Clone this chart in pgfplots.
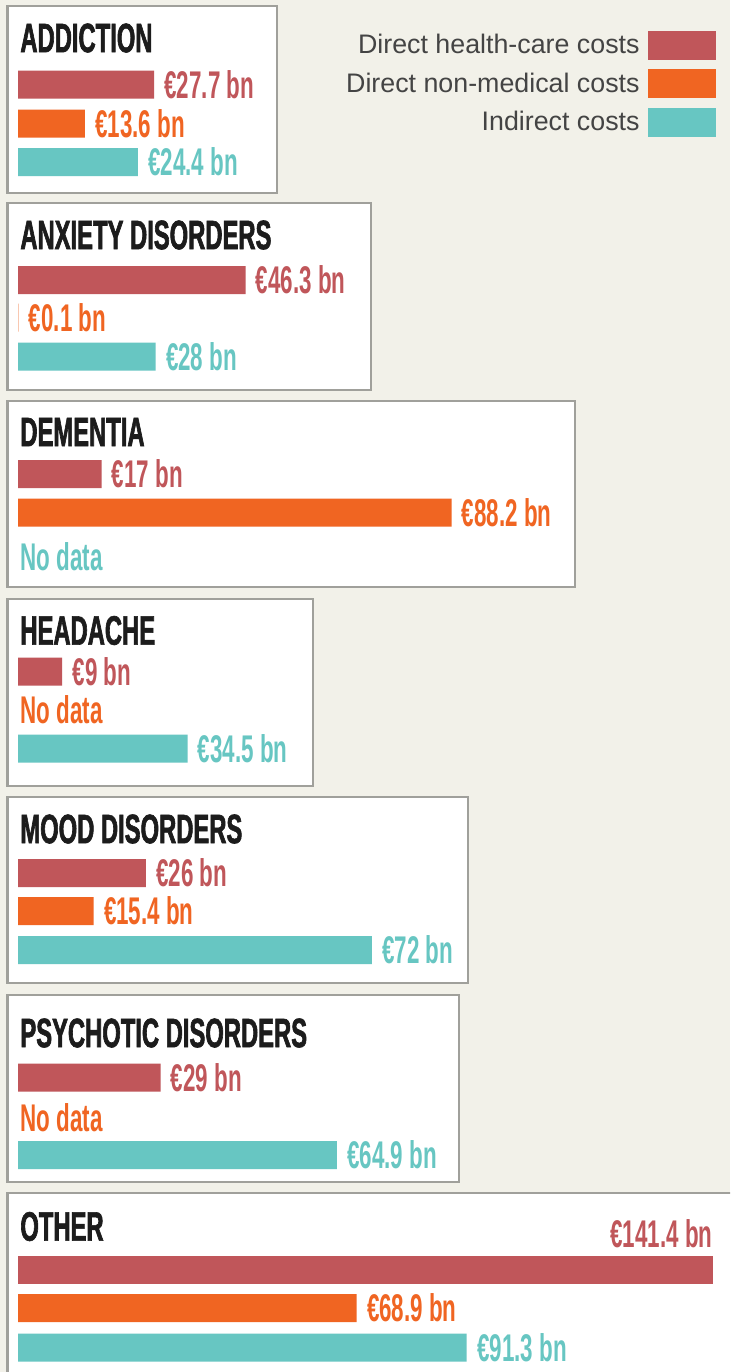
\documentclass[border=0pt]{standalone}
\usepackage{pgfplots}
\pgfplotsset{compat=1.18}
\usepackage{fontspec}
\setmainfont{Liberation Sans}
\newfontfamily\condfont[FakeStretch=0.58]{Liberation Sans}
\newfontfamily\titlecond[FakeStretch=0.58,FakeBold=1.5]{Liberation Sans}
\definecolor{hc}{RGB}{192,86,90}
\definecolor{nm}{RGB}{240,101,34}
\definecolor{ind}{RGB}{103,198,194}
\definecolor{bg}{RGB}{242,241,233}
\definecolor{legtext}{RGB}{68,68,68}
\definecolor{ttl}{RGB}{28,28,28}
\definecolor{boxline}{RGB}{160,160,155}
\newcommand\eur{\char"20AC\relax}
\newcommand\PX[1]{{(#1-18)/4.915}}
\newcommand\titlefont{\titlecond\bfseries\fontsize{20.5}{22}\selectfont}
\newcommand\labelfont{\condfont\bfseries\fontsize{19.3}{21}\selectfont}
\newcommand\legfont{\fontsize{13.4}{15}\selectfont}
\newcommand\panel[3]{\draw[boxline, line width=1.1pt, fill=white] (axis cs:\PX{7.5},#1) rectangle (axis cs:\PX{#3},#2);}
\begin{document}
\begin{tikzpicture}
\begin{axis}[
  scale only axis, width=365pt, height=686pt,
  xmin=-3.6623, xmax=144.863, ymin=0, ymax=1372, y dir=reverse,
  hide axis, clip=true,
  xbar, bar width=28, bar shift=0pt,
  point meta=x,
  /pgf/number format/assume math mode=true,
  nodes near coords={\eur\pgfmathprintnumber{\pgfplotspointmeta} bn},
  every node near coord/.style={anchor=west, inner sep=0pt, xshift=5pt, font=\labelfont},
  legend plot pos=right, legend cell align=right,
  legend style={at={(axis cs:142.01,30.5)}, anchor=north east, draw=none, fill=none,
    inner sep=0pt, row sep=4.75pt, column sep=4pt, font=\legfont, text=legtext,
    nodes={inner sep=0pt}},
]
\fill[bg] (rel axis cs:0,0) rectangle (rel axis cs:1,1);
% boxes
\panel{6}{193}{277}
\panel{203}{390}{371}
\panel{401}{587}{575}
\panel{599}{786}{313}
\panel{797}{983}{468}
\panel{995}{1182}{459}
\panel{1193}{1400}{760}
% titles
\node[anchor=west, inner sep=0pt, font=\titlefont, text=ttl] at (axis cs:\PX{20},38) {ADDICTION};
\node[anchor=west, inner sep=0pt, font=\titlefont, text=ttl] at (axis cs:\PX{20},235) {ANXIETY DISORDERS};
\node[anchor=west, inner sep=0pt, font=\titlefont, text=ttl] at (axis cs:\PX{20},432) {DEMENTIA};
\node[anchor=west, inner sep=0pt, font=\titlefont, text=ttl] at (axis cs:\PX{20},630.5) {HEADACHE};
\node[anchor=west, inner sep=0pt, font=\titlefont, text=ttl] at (axis cs:\PX{20},829) {MOOD DISORDERS};
\node[anchor=west, inner sep=0pt, font=\titlefont, text=ttl] at (axis cs:\PX{20},1033) {PSYCHOTIC DISORDERS};
\node[anchor=west, inner sep=0pt, font=\titlefont, text=ttl] at (axis cs:\PX{20},1226.5) {OTHER};
% no data
\node[anchor=west, inner sep=0pt, font=\labelfont, text=ind] at (axis cs:\PX{20},556.5) {No data};
\node[anchor=west, inner sep=0pt, font=\labelfont, text=nm] at (axis cs:\PX{20},710) {No data};
\node[anchor=west, inner sep=0pt, font=\labelfont, text=nm] at (axis cs:\PX{20},1118) {No data};
% bars
\addplot[fill=hc, draw=none, every node near coord/.append style={text=hc},
  legend image code/.code={\fill[hc] (0pt,-7.25pt) rectangle (34pt,7.25pt);}]
  coordinates {(27.7,84.5) (46.3,280) (17,474) (9,671.5) (26,873) (29,1077.5)};
\addlegendentry{Direct health-care costs}
\addplot[fill=nm, draw=none, every node near coord/.append style={text=nm},
  legend image code/.code={\fill[nm] (0pt,-7.25pt) rectangle (34pt,7.25pt);}]
  coordinates {(13.6,123.5) (0.1,317.5) (88.2,512.5) (15.4,911) (68.9,1308)};
\addlegendentry{Direct non-medical costs}
\addplot[fill=ind, draw=none, every node near coord/.append style={text=ind},
  legend image code/.code={\fill[ind] (0pt,-7.25pt) rectangle (34pt,7.25pt);}]
  coordinates {(24.4,162) (28,356.5) (34.5,748.5) (72,950) (64.9,1155) (91.3,1347.5)};
\addlegendentry{Indirect costs}
\addplot[fill=hc, draw=none, forget plot,
  every node near coord/.append style={text=hc, anchor=south east, xshift=-5pt, yshift=11pt}]
  coordinates {(141.4,1270)};
\end{axis}
\end{tikzpicture}
\end{document}
